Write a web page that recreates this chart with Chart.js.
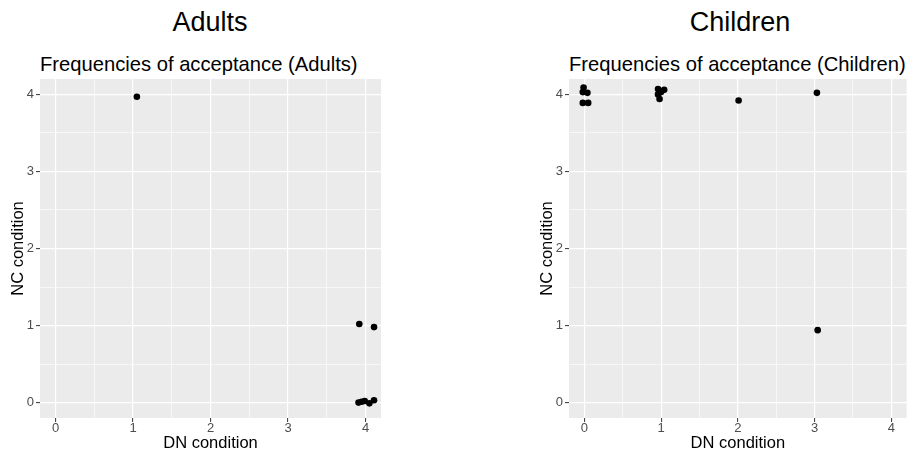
<!DOCTYPE html>
<html>
<head>
<meta charset="utf-8">
<script src="https://cdn.jsdelivr.net/npm/chart.js@4/dist/chart.umd.min.js"></script>
<style>
    html, body { margin: 0; padding: 0; background: #fff; overflow: hidden; width: 908px; height: 452px; }
    body { position: relative; font-family: "Liberation Sans", Arial, sans-serif; }
    canvas { position: absolute; top: 0; }
    #adultsCanvas { left: 0; }
    #childrenCanvas { left: 454px; }
    .title { position: absolute; line-height: 1; white-space: nowrap; color: #000; }
    .big { font-size: 27px; top: 9px; transform: translateX(-50%); }
    .sub { font-size: 20.2px; top: 54px; }
</style>
</head>
<body>
<div class="title big" style="left:210px">Adults</div>
<div class="title big" style="left:740px">Children</div>
<div class="title sub" style="left:40px">Frequencies of acceptance (Adults)</div>
<div class="title sub" style="left:569px">Frequencies of acceptance (Children)</div>
<canvas id="adultsCanvas" width="454" height="452"></canvas>
<canvas id="childrenCanvas" width="456" height="452"></canvas>
<script>
// jittered scores
const adultsDN = [1.05, 3.92, 4.11, 3.91, 3.95, 3.99, 4.05, 4.11];
const adultsNC = [3.97, 1.02, 0.98, 0.00, 0.01, 0.02, -0.01, 0.03];

const childrenDN = [-0.01, -0.02, 0.04, -0.02, 0.05, 0.96, 1.04, 0.96, 0.98, 1.00, 2.01, 3.03, 3.04];
const childrenNC = [4.09, 4.03, 4.02, 3.89, 3.89, 4.07, 4.06, 4.00, 3.94, 4.03, 3.92, 4.02, 0.94];

const tickValues = [0, 1, 2, 3, 4];
const tickLabels = ["0", "1", "2", "3", "4"];
const minorValues = [0.5, 1.5, 2.5, 3.5];

const axisMin = -0.2;
const axisMax = 4.2;

const panelBg = {
    id: "panelBg",
    beforeDraw(chart) {
        const a = chart.chartArea;
        const ctx = chart.ctx;
        ctx.save();
        ctx.fillStyle = "#EBEBEB";
        ctx.fillRect(a.left, a.top, a.right - a.left, a.bottom - a.top);
        ctx.restore();
    }
};

function isMajor(ctx) {
    return ctx.tick && tickValues.includes(ctx.tick.value);
}

function makeScale(titleText, isY) {
    return {
        type: "linear",
        min: axisMin,
        max: axisMax,
        afterBuildTicks: s => {
            s.ticks = tickValues.concat(minorValues).sort((a, b) => a - b).map(v => ({ value: v }));
        },
        afterFit: s => {
            if (isY) s.width = 40; else s.height = 34;
        },
        border: { display: false },
        grid: {
            color: "#FFFFFF",
            lineWidth: ctx => isMajor(ctx) ? 1.2 : 0.6,
            tickColor: ctx => isMajor(ctx) ? "#333333" : "rgba(0,0,0,0)",
            tickLength: 4,
            tickWidth: 1
        },
        ticks: {
            autoSkip: false,
            maxRotation: 0,
            padding: isY ? 2 : -1,
            color: "#4D4D4D",
            font: { family: "'Liberation Sans', Arial, sans-serif", size: 13 },
            callback: v => {
                const i = tickValues.indexOf(v);
                return i >= 0 ? tickLabels[i] : "";
            }
        },
        title: {
            display: true,
            text: titleText,
            color: "#000",
            font: { family: "'Liberation Sans', Arial, sans-serif", size: 16.5 },
            padding: isY ? { top: 8.5, bottom: 0 } : { top: 0, bottom: -1.5 }
        }
    };
}

function drawPanel(canvasId, xs, ys, padLeft, padRight) {
    const points = xs.map((x, i) => ({ x: x, y: ys[i] }));
    return new Chart(document.getElementById(canvasId), {
        type: "scatter",
        data: {
            datasets: [{
                data: points,
                backgroundColor: "#000",
                borderColor: "#000",
                borderWidth: 0,
                pointRadius: 3.3,
                pointHoverRadius: 3.3
            }]
        },
        options: {
            responsive: false,
            animation: false,
            devicePixelRatio: 1,
            layout: { padding: { left: padLeft, right: padRight, top: 79, bottom: 0 } },
            plugins: {
                legend: { display: false },
                tooltip: { enabled: false },
                title: { display: false }
            },
            scales: {
                x: makeScale("DN condition", false),
                y: makeScale("NC condition", true)
            }
        },
        plugins: [panelBg]
    });
}

drawPanel("adultsCanvas", adultsDN, adultsNC, 0, 73);
drawPanel("childrenCanvas", childrenDN, childrenNC, 75, 0);
</script>
</body>
</html>
